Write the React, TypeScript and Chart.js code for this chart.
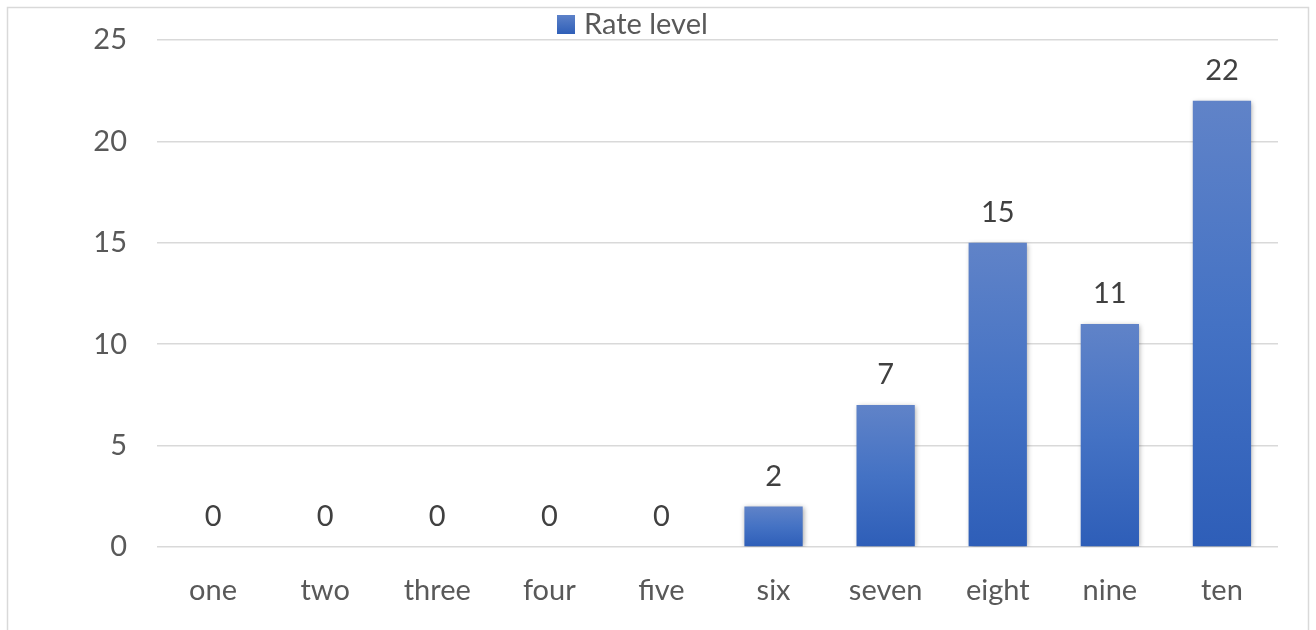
import React, { useEffect, useRef } from "react";
import { Chart, registerables } from "chart.js";

Chart.register(...registerables);

const categories = ["one", "two", "three", "four", "five", "six", "seven", "eight", "nine", "ten"];
const rateLevel = [0, 0, 0, 0, 0, 2, 7, 15, 11, 22];
const seriesName = "Rate level";
const yTicks = [0, 5, 10, 15, 20, 25];

const FONT = "Lato, 'Open Sans', sans-serif";
const FSIZE = 29;

export default function App() {
  const ref = useRef<HTMLCanvasElement | null>(null);

  useEffect(() => {
    const canvas = ref.current!;
    const frame = {
      id: "frame",
      beforeDraw(chart: any) {
        const ctx = chart.ctx;
        ctx.save();
        ctx.fillStyle = "#ffffff";
        ctx.fillRect(0, 0, chart.width, chart.height);
        ctx.strokeStyle = "#d9d9d9";
        ctx.lineWidth = 1.5;
        ctx.strokeRect(7.5, 7.5, 1301, 640);
        ctx.restore();
      },
      afterDraw(chart: any) {
        const ctx = chart.ctx;
        ctx.save();
        // legend
        const g = ctx.createLinearGradient(0, 14, 0, 34);
        g.addColorStop(0, "#5f83c9");
        g.addColorStop(1, "#2f5fb8");
        ctx.fillStyle = g;
        ctx.fillRect(557, 15, 18, 19);
        ctx.fillStyle = "#595959";
        ctx.font = `${FSIZE}px ${FONT}`;
        ctx.textAlign = "left";
        ctx.textBaseline = "middle";
        ctx.fillText(seriesName, 584, 25);
        // data labels
        const meta = chart.getDatasetMeta(0);
        ctx.fillStyle = "#404040";
        ctx.textAlign = "center";
        ctx.textBaseline = "middle";
        meta.data.forEach((bar: any, i: number) => {
          ctx.fillText(String(rateLevel[i]), bar.x, bar.y - 30);
        });
        ctx.restore();
      },
      beforeDatasetDraw(chart: any) {
        const ctx = chart.ctx;
        ctx.save();
        ctx.shadowColor = "rgba(0,0,0,0.35)";
        ctx.shadowBlur = 5;
        ctx.shadowOffsetX = 1;
        ctx.shadowOffsetY = 1;
      },
      afterDatasetDraw(chart: any) {
        chart.ctx.restore();
      },
    };

    const chart = new Chart(canvas, {
      type: "bar",
      data: {
        labels: categories,
        datasets: [
          {
            label: seriesName,
            data: rateLevel,
            backgroundColor: (c: any) => {
              const ch = c.chart;
              const ys = ch.scales?.y;
              if (!ys || c.dataIndex === undefined) return "#4472c4";
              const top = ys.getPixelForValue(rateLevel[c.dataIndex]);
              const bottom = ys.getPixelForValue(0);
              if (!isFinite(top) || !isFinite(bottom) || top === bottom) return "#4472c4";
              const g = ch.ctx.createLinearGradient(0, top, 0, bottom);
              g.addColorStop(0, "#6083c8");
              g.addColorStop(0.5, "#4472c4");
              g.addColorStop(1, "#2e5eb8");
              return g;
            },
            borderWidth: 0,
            barPercentage: 0.52,
            categoryPercentage: 1,
          },
        ],
      },
      options: {
        animation: false,
        responsive: false,
        devicePixelRatio: 1,
        layout: { padding: { left: 0, right: 38, top: 40, bottom: 0 } },
        plugins: { legend: { display: false }, tooltip: { enabled: false } },
        scales: {
          x: {
            grid: { display: false, drawTicks: false },
            border: { display: false },
            ticks: { color: "#595959", font: { family: FONT, size: FSIZE }, padding: 26 },
            afterFit: (s: any) => {
              s.height = 83;
              s.paddingLeft = 0;
              s.paddingRight = 0;
            },
          },
          y: {
            min: 0,
            max: 25,
            afterBuildTicks: (s: any) => {
              s.ticks = yTicks.map((v) => ({ value: v }));
            },
            grid: { color: "#d9d9d9", lineWidth: 1.5, drawTicks: false },
            border: { display: false },
            ticks: { color: "#595959", font: { family: FONT, size: FSIZE }, padding: 30 },
            afterFit: (s: any) => {
              s.width = 157;
              s.paddingTop = 0;
              s.paddingBottom = 0;
            },
          },
        },
      },
      plugins: [frame],
    });
    return () => chart.destroy();
  }, []);

  return (
    <div style={{ position: "fixed", left: 0, top: 0, width: 1316, height: 630 }}>
      <canvas ref={ref} width={1316} height={630} style={{ display: "block" }} />
    </div>
  );
}
